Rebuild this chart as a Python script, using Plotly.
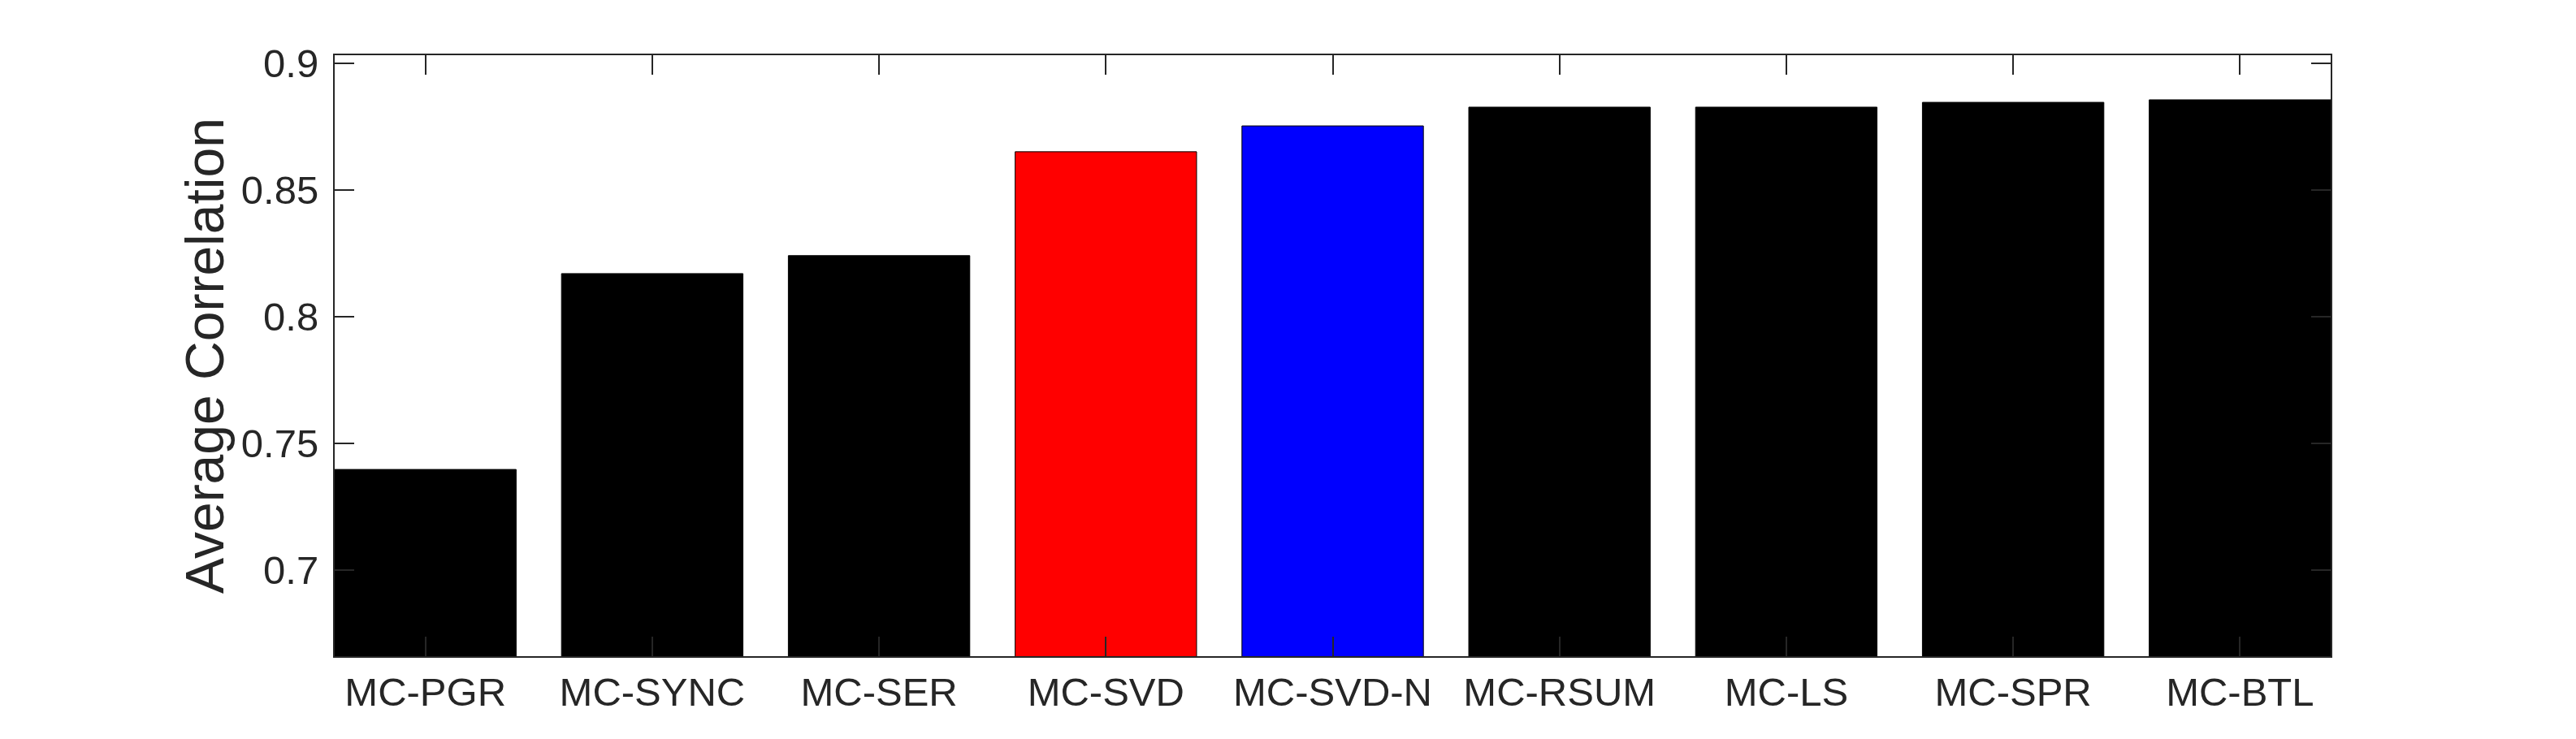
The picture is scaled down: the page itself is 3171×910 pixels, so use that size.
import plotly.graph_objects as go

# data
methods = ['MC-PGR', 'MC-SYNC', 'MC-SER', 'MC-SVD', 'MC-SVD-N',
           'MC-RSUM', 'MC-LS', 'MC-SPR', 'MC-BTL']
avg_corr = [0.7398, 0.8171, 0.8242, 0.8652, 0.8754,
            0.8828, 0.8828, 0.8847, 0.8857]
bar_colors = ['#000000', '#000000', '#000000', '#FF0000', '#0000FF',
              '#000000', '#000000', '#000000', '#000000']
y_ticks = [0.7, 0.75, 0.8, 0.85, 0.9]
y_tick_text = ['0.7', '0.75', '0.8', '0.85', '0.9']

font_family = 'Liberation Sans, Arial, sans-serif'
ink = '#262626'

fig = go.Figure()
fig.add_trace(go.Bar(
    x=methods,
    y=avg_corr,
    width=0.8,
    marker=dict(color=bar_colors, line=dict(color='#000000', width=1)),
))

axis_common = dict(
    showline=True,
    linecolor=ink,
    linewidth=2,
    mirror='ticks',
    ticks='inside',
    ticklen=24,
    tickwidth=2,
    tickcolor=ink,
    showgrid=False,
    zeroline=False,
    tickfont=dict(family=font_family, size=49, color=ink),
)

# page body adds an 8px offset, so the figure is a bit smaller than the window
fig.update_layout(
    width=3155,
    height=894,
    margin=dict(l=404, r=294, t=60, b=94, autoexpand=False),
    plot_bgcolor='white',
    paper_bgcolor='white',
    showlegend=False,
    bargap=0.2,
    xaxis=dict(axis_common, range=[-0.4, 8.4], type='category'),
    yaxis=dict(
        axis_common,
        range=[0.6661, 0.9033],
        tickvals=y_ticks,
        ticktext=y_tick_text,
        ticklabelstandoff=8,
        title=dict(text='Average Correlation',
                   font=dict(family=font_family, size=66, color=ink),
                   standoff=0),
    ),
)

fig.write_html('out.html')
